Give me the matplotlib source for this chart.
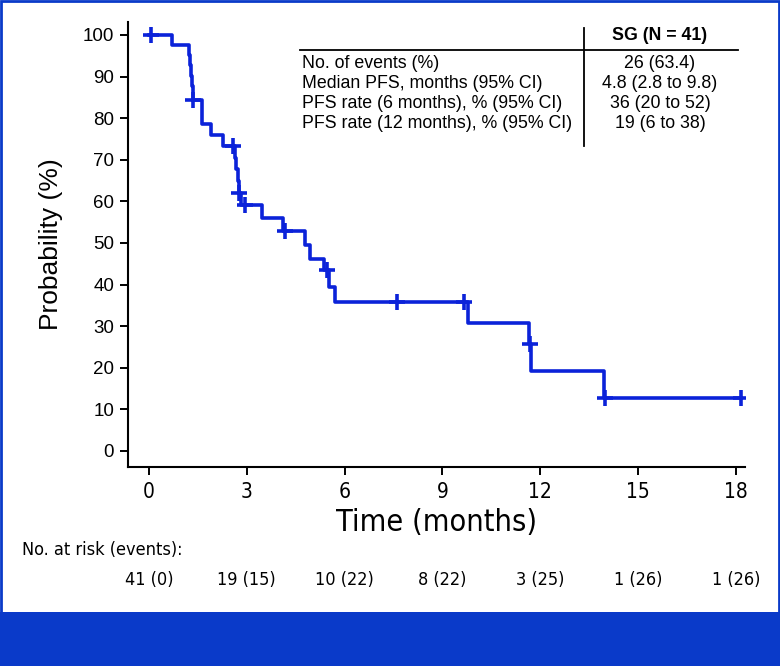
import numpy as np
import matplotlib.pyplot as plt
from matplotlib.patches import Rectangle

# KM curve: step times (months) and level after each drop (%)
step_t = [0, 0.7, 1.22, 1.25, 1.28, 1.31, 1.34, 1.63, 1.9, 2.27, 2.64, 2.68, 2.72, 2.75,
          2.82, 3.46, 4.1, 4.8, 4.94, 5.37, 5.52, 5.7, 9.79, 11.66, 11.72, 13.96]
step_p = [100, 97.6, 95.1, 92.7, 90.2, 87.8, 84.4, 78.6, 76.0, 73.3, 70.5, 67.7, 64.9, 62.1,
          59.0, 56.0, 52.9, 49.5, 46.2, 43.5, 39.4, 35.8, 30.8, 25.7, 19.2, 12.8]
end_t = 18.16

cens_t = [0.05, 1.35, 2.58, 2.76, 2.94, 4.17, 5.45, 7.6, 9.66, 11.69, 14.0, 18.16]
cens_p = [100, 84.4, 73.3, 62.1, 59.0, 52.9, 43.5, 35.8, 35.8, 25.7, 12.8, 12.8]

xticks = [0, 3, 6, 9, 12, 15, 18]
risk = ["41 (0)", "19 (15)", "10 (22)", "8 (22)", "3 (25)", "1 (26)", "1 (26)"]

row_labels = ["No. of events (%)", "Median PFS, months (95% CI)",
              "PFS rate (6 months), % (95% CI)", "PFS rate (12 months), % (95% CI)"]
row_values = ["26 (63.4)", "4.8 (2.8 to 9.8)", "36 (20 to 52)", "19 (6 to 38)"]

blue = '#0b22d9'
band = '#0a3ac9'
plt.rcParams['font.family'] = ['Liberation Sans', 'DejaVu Sans']
cond = dict(family='DejaVu Sans', stretch='condensed')

W, H = 780, 666
fig = plt.figure(figsize=(W / 100, H / 100), dpi=100)

def fx(px):
    return px / W

def fy(py):
    return 1 - py / H

ax = fig.add_axes([fx(128), fy(467), fx(745) - fx(128), fy(22) - fy(467)])

ax.step(step_t + [end_t], step_p + [step_p[-1]], where='post', color=blue, lw=2.6)
ax.plot(cens_t, cens_p, '+', color=blue, ms=11, mew=2.6)

ax.set_xlim(-0.64, 18.28)
ax.set_ylim(-3.85, 103.1)
ax.set_xticks(xticks)
ax.set_yticks(range(0, 101, 10))
ax.spines['top'].set_color('none')
ax.spines['right'].set_color('none')
for s in ['left', 'bottom']:
    ax.spines[s].set_linewidth(1.5)
ax.tick_params(direction='out', length=6, width=1.4, colors='black')
ax.tick_params(axis='y', labelsize=13.5, pad=4)
ax.tick_params(axis='x', labelsize=15, pad=5)
for lab in ax.get_xticklabels():
    lab.set_family('DejaVu Sans')
    lab.set_stretch('condensed')

ax.set_xlabel('Time (months)', fontsize=22, labelpad=4, **cond)
ax.set_ylabel('Probability (%)', fontsize=19, labelpad=14)

# summary table
for i, (lab, val) in enumerate(zip(row_labels, row_values)):
    y = 63 + 20 * i
    fig.text(fx(302), fy(y), lab, fontsize=12.8, va='center', ha='left')
    fig.text(fx(660), fy(y), val, fontsize=12.8, va='center', ha='center')
fig.text(fx(660), fy(35), 'SG (N = 41)', fontsize=12.8, weight='bold', va='center', ha='center')
fig.add_artist(plt.Line2D([fx(300), fx(738)], [fy(50), fy(50)], color='black', lw=1.3))
fig.add_artist(plt.Line2D([fx(584), fx(584)], [fy(28), fy(146)], color='black', lw=1.3))

# number at risk
fig.text(fx(22), fy(550), 'No. at risk (events):', fontsize=13, va='center', **cond)
for t, r in zip(xticks, risk):
    xp = ax.transData.transform((t, 0))[0] / W
    fig.text(xp, fy(580), r, fontsize=13, va='center', ha='center', **cond)

# blue frame and band
fig.add_artist(Rectangle((0.001, 0), 0.998, 0.998, transform=fig.transFigure,
                         fill=False, edgecolor=band, lw=2))
fig.add_artist(Rectangle((0, 0), 1, 54 / H, transform=fig.transFigure,
                         facecolor=band, edgecolor='none'))

fig.savefig('out.png', dpi=100)
